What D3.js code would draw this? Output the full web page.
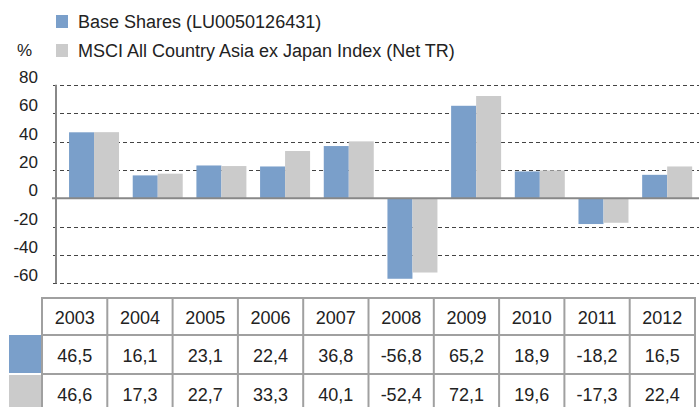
<!DOCTYPE html>
<html>
<head>
<meta charset="utf-8">
<script src="https://cdn.jsdelivr.net/npm/d3@7"></script>
<style>
  body { margin: 0; background: #fff; }
  text { font-family: "Liberation Sans", Arial, sans-serif; fill: #222; }
</style>
</head>
<body>
<div id="chart"></div>
<script>
const years = ['2003', '2004', '2005', '2006', '2007', '2008', '2009', '2010', '2011', '2012'];
const fundValues = [46.5, 16.1, 23.1, 22.4, 36.8, -56.8, 65.2, 18.9, -18.2, 16.5];
const indexValues = [46.6, 17.3, 22.7, 33.3, 40.1, -52.4, 72.1, 19.6, -17.3, 22.4];
const seriesNames = ['Base Shares (LU0050126431)', 'MSCI All Country Asia ex Japan Index (Net TR)'];
const yTicks = [80, 60, 40, 20, 0, -20, -40, -60];

const width = 699;
const height = 407;
const colors = ['#7a9fca', '#cbcbcb'];

const svg = d3.select('#chart')
    .append('svg')
    .attr('width', width)
    .attr('height', height);

const y = d3.scaleLinear()
    .domain([-60, 80])
    .range([283.3, 84.8]);

const x = d3.scaleBand()
    .domain(years)
    .range([62.2, 699])
    .paddingInner(0.215)
    .paddingOuter(0.1075);

const xSub = d3.scaleBand()
    .domain([0, 1])
    .range([0, x.bandwidth()]);

// gridlines
svg.append('g')
    .selectAll('line')
    .data(yTicks.filter(d => d !== 0))
    .enter()
    .append('line')
    .attr('x1', 53)
    .attr('x2', width)
    .attr('y1', d => Math.round(y(d)) + 0.5)
    .attr('y2', d => Math.round(y(d)) + 0.5)
    .attr('stroke', '#444')
    .attr('stroke-width', 1)
    .attr('stroke-dasharray', '4,3');

// y labels
svg.append('g')
    .selectAll('text')
    .data(yTicks)
    .enter()
    .append('text')
    .attr('x', 38)
    .attr('y', d => y(d) - 2)
    .attr('text-anchor', 'end')
    .style('font-size', '17px')
    .text(d => d);

svg.append('text')
    .attr('x', 17)
    .attr('y', 56)
    .style('font-size', '17px')
    .text('%');

// bars
const series = [fundValues, indexValues];
series.forEach((vals, i) => {
    svg.append('g')
        .selectAll('rect')
        .data(vals)
        .enter()
        .append('rect')
        .attr('x', (d, j) => x(years[j]) + xSub(i))
        .attr('width', xSub.bandwidth())
        .attr('y', d => y(Math.max(0, d)))
        .attr('height', d => Math.abs(y(d) - y(0)))
        .attr('fill', colors[i]);
});

// axes
svg.append('line')
    .attr('x1', 56).attr('x2', 56)
    .attr('y1', y(80)).attr('y2', y(-60))
    .attr('stroke', '#888')
    .attr('stroke-width', 2);

svg.append('line')
    .attr('x1', 52).attr('x2', width)
    .attr('y1', y(0)).attr('y2', y(0))
    .attr('stroke', '#888')
    .attr('stroke-width', 2);

// legend
seriesNames.forEach((name, i) => {
    const ly = 15 + i * 29;
    svg.append('rect')
        .attr('x', 56).attr('y', ly)
        .attr('width', 12).attr('height', 13)
        .attr('fill', colors[i]);
    svg.append('text')
        .attr('x', 78).attr('y', ly + 13)
        .style('font-size', '18px')
        .text(name);
});

// data table
const tx = d3.scaleBand()
    .domain(years)
    .range([42, 695]);

const rowTops = [298, 335, 374];
const rowH = [37, 39, 39];

// row key cells
[1, 2].forEach((r, i) => {
    svg.append('rect')
        .attr('x', 9).attr('y', rowTops[r] + (i === 1 ? 1 : 0))
        .attr('width', 33).attr('height', rowH[r] - 1)
        .attr('fill', colors[i]);
});

const rows = [years, fundValues.map(d => String(d).replace('.', ',')), indexValues.map(d => String(d).replace('.', ','))];

rows.forEach((row, r) => {
    svg.append('g')
        .selectAll('text')
        .data(row)
        .enter()
        .append('text')
        .attr('x', (d, j) => tx(years[j]) + tx.bandwidth() / 2)
        .attr('y', rowTops[r] + rowH[r] / 2 + 7)
        .attr('text-anchor', 'middle')
        .style('font-size', '18px')
        .text(d => d);
});

const grid = svg.append('g')
    .attr('stroke', '#a0a0a0')
    .attr('stroke-width', 2)
    .attr('fill', 'none');

rowTops.forEach(t => {
    grid.append('line')
        .attr('x1', 42).attr('x2', 695)
        .attr('y1', t).attr('y2', t);
});

years.concat(['end']).forEach((yr, j) => {
    const xx = yr === 'end' ? 695 : tx(yr);
    grid.append('line')
        .attr('x1', xx).attr('x2', xx)
        .attr('y1', 297).attr('y2', height);
});
</script>
</body>
</html>
